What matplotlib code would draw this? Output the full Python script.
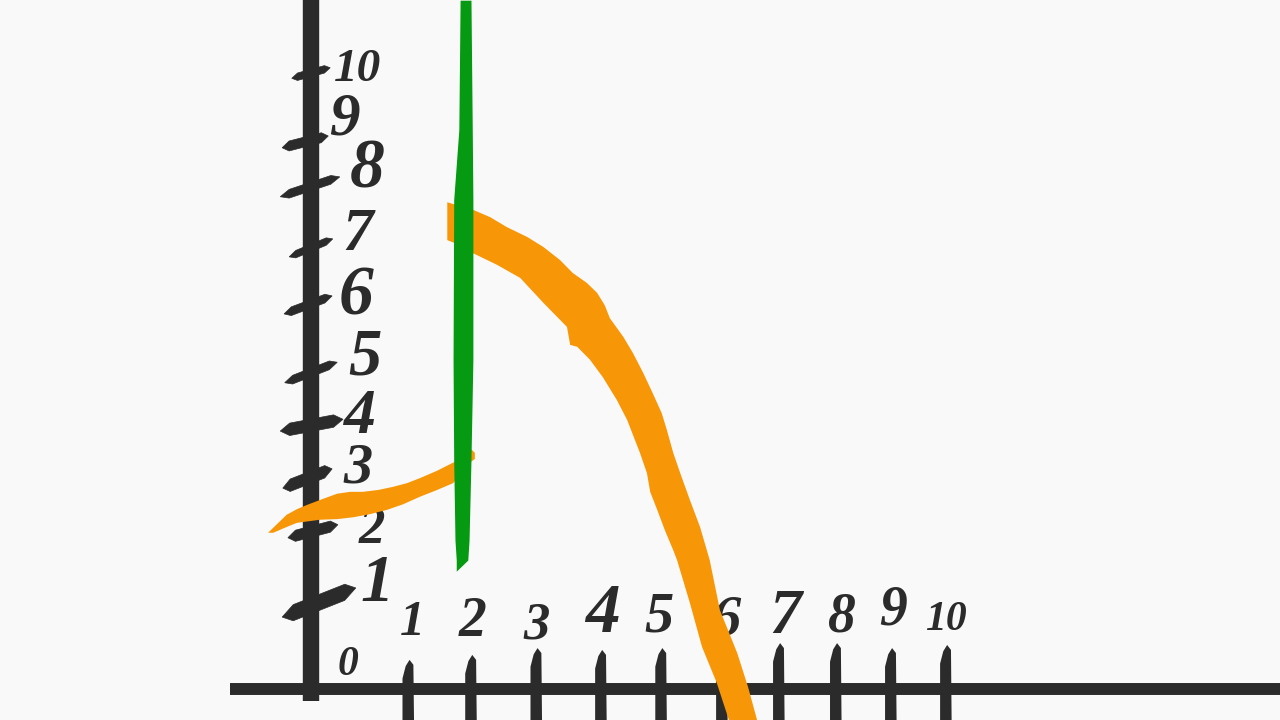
import matplotlib
matplotlib.use("Agg")
import matplotlib.pyplot as plt

#-----Data-----#
INK = "#2b2b2b"
ORANGE = "#f79606"
GREEN = "#069a12"
PAPER = "#f9f9f9"
DIGIT_FONT = "Liberation Serif"

# x ticks are hand drawn, so they do not sit on whole units
xTickPos = [1.52, 2.50, 3.52, 4.53, 5.47, 6.42, 7.31, 8.20, 9.06, 9.92]
xTickTop = [0.47, 0.55, 0.66, 0.63, 0.66, 0.66, 0.74, 0.74, 0.66, 0.71]
xTickBottom = -0.5

yTickLeftX = [-0.45, -0.36, -0.44, -0.48, -0.41, -0.42, -0.34, -0.48, -0.45, -0.30]
yTickLeftY = [1.16, 2.44, 3.24, 4.16, 4.94, 6.05, 6.97, 7.94, 8.73, 9.85]
yTickRightX = [0.70, 0.42, 0.33, 0.50, 0.41, 0.33, 0.34, 0.45, 0.27, 0.30]
yTickRightY = [1.63, 2.65, 3.55, 4.35, 5.27, 6.34, 7.26, 8.26, 8.92, 10.02]
yTickHalf = [0.13, 0.09, 0.10, 0.10, 0.07, 0.07, 0.06, 0.07, 0.08, 0.06]

xLabels = ["1", "2", "3", "4", "5", "6", "7", "8", "9", "10"]
xLabelX = [1.58, 2.53, 3.53, 4.55, 5.44, 6.50, 7.41, 8.30, 9.09, 9.92]
xLabelY = [1.06, 1.08, 1.03, 1.19, 1.16, 1.11, 1.15, 1.15, 1.27, 1.11]
xLabelSize = [36, 40, 38, 50, 42, 42, 46, 40, 40, 30]

yLabels = ["0", "1", "2", "3", "4", "5", "6", "7", "8", "9", "10"]
yLabelX = [0.58, 1.03, 0.95, 0.73, 0.77, 0.84, 0.70, 0.73, 0.88, 0.53, 0.73]
yLabelY = [0.39, 1.68, 2.56, 3.56, 4.37, 5.34, 6.32, 7.32, 8.37, 9.18, 9.98]
yLabelSize = [30, 48, 38, 42, 46, 48, 50, 44, 50, 44, 34]

# green vertical stroke, left and right edge
greenY = [11.11, 9.02, 7.89, 5.31, 3.69, 2.40, 2.08, 1.90]
greenLeft = [2.33, 2.31, 2.23, 2.22, 2.23, 2.25, 2.27, 2.27]
greenRight = [2.50, 2.52, 2.53, 2.53, 2.50, 2.47, 2.45, 2.27]

# orange curve before the jump, as an outline
lowX = [-0.67, -0.53, -0.38, -0.22, -0.06, 0.17, 0.41, 0.61, 0.81, 1.05, 1.28, 1.50, 1.70,
        1.97, 2.22, 2.41, 2.48, 2.56, 2.56, 2.48, 2.36, 2.22, 1.97, 1.70, 1.44, 1.19, 0.92,
        0.66, 0.41, 0.14, -0.22, -0.41, -0.59]
lowY = [2.52, 2.66, 2.81, 2.90, 2.97, 3.06, 3.15, 3.18, 3.18, 3.21, 3.26, 3.32, 3.40,
        3.52, 3.65, 3.77, 3.89, 3.81, 3.71, 3.65, 3.49, 3.32, 3.21, 3.10, 2.98, 2.89, 2.82,
        2.77, 2.74, 2.73, 2.68, 2.60, 2.52]

# orange curve after the jump, as an outline
highX = [2.13, 2.53, 2.80, 3.06, 3.38, 3.63, 3.89, 4.09, 4.31, 4.47, 4.59, 4.67, 4.88, 5.03,
         5.19, 5.34, 5.48, 5.56, 5.66, 5.77, 5.92, 6.08, 6.23, 6.39, 6.66, 6.83, 6.97,
         6.53, 6.34, 6.11, 5.92, 5.72, 5.66, 5.53, 5.41, 5.30, 5.25, 5.14, 4.94, 4.78, 4.56,
         4.36, 4.16, 4.05, 4.00, 3.63, 3.27, 2.91, 2.53, 2.52, 2.13]
highY = [7.85, 7.73, 7.61, 7.45, 7.29, 7.13, 6.92, 6.71, 6.55, 6.39, 6.19, 5.98, 5.68, 5.42,
         5.10, 4.77, 4.45, 4.18, 3.81, 3.48, 3.05, 2.61, 2.08, 1.27, 0.58, 0.03, -0.50,
         -0.50, 0.10, 0.68, 1.39, 2.08, 2.24, 2.56, 2.89, 3.18, 3.48, 3.81, 4.34, 4.66, 5.03,
         5.31, 5.52, 5.55, 5.84, 6.23, 6.63, 6.84, 7.03, 7.08, 7.24]


def brushTickY(ax, x0, y0, x1, y1, half):
    # horizontal brush stroke, thin at both ends
    dx = x1 - x0
    dy = y1 - y0
    xs = [x0, x0 + dx * 0.15, x0 + dx * 0.85, x1, x0 + dx * 0.85, x0 + dx * 0.15]
    upper = [y0, y0 + dy * 0.15 + half, y0 + dy * 0.85 + half, y1]
    lower = [y0 + dy * 0.85 - half, y0 + dy * 0.15 - half]
    ax.fill(xs, upper + lower, color=INK, linewidth=0.5, zorder=2)


#-----Main-----#
fig = plt.figure(figsize=(12.8, 7.2), dpi=100, facecolor=PAPER)
ax = fig.add_axes([0, 0, 1, 1])
ax.set_xlim(-4.859, 15.141)
ax.set_ylim(-0.5, 11.113)
ax.axis("off")

# axes
ax.plot([-1.27, 15.2], [0, 0], color=INK, linewidth=8.6, solid_capstyle="butt", zorder=2)
ax.plot([0, 0], [-0.2, 11.2], color=INK, linewidth=11.8, solid_capstyle="butt", zorder=2)

for pos, top in zip(xTickPos, xTickTop):
    ax.fill([pos + 0.02, pos + 0.08, pos + 0.09, pos - 0.09, pos - 0.09, pos - 0.04],
            [top, top - 0.08, xTickBottom, xTickBottom, top - 0.3, top - 0.1],
            color=INK, linewidth=0, zorder=2)

for i in range(len(yTickLeftX)):
    brushTickY(ax, yTickLeftX[i], yTickLeftY[i], yTickRightX[i], yTickRightY[i], yTickHalf[i])

for text, x, y, size in zip(xLabels, xLabelX, xLabelY, xLabelSize):
    ax.text(x, y, text, color=INK, fontsize=size, family=DIGIT_FONT, style="italic",
            weight="bold", ha="center", va="center", zorder=3)

for text, x, y, size in zip(yLabels, yLabelX, yLabelY, yLabelSize):
    ax.text(x, y, text, color=INK, fontsize=size, family=DIGIT_FONT, style="italic",
            weight="bold", ha="center", va="center", zorder=3)

# function pieces and the green line on top
ax.fill(lowX, lowY, color=ORANGE, linewidth=0, zorder=4)
ax.fill(highX, highY, color=ORANGE, linewidth=0, zorder=4)
ax.fill_betweenx(greenY, greenLeft, greenRight, color=GREEN, linewidth=0, zorder=5)

fig.savefig("out.png", dpi=100, facecolor=PAPER)
